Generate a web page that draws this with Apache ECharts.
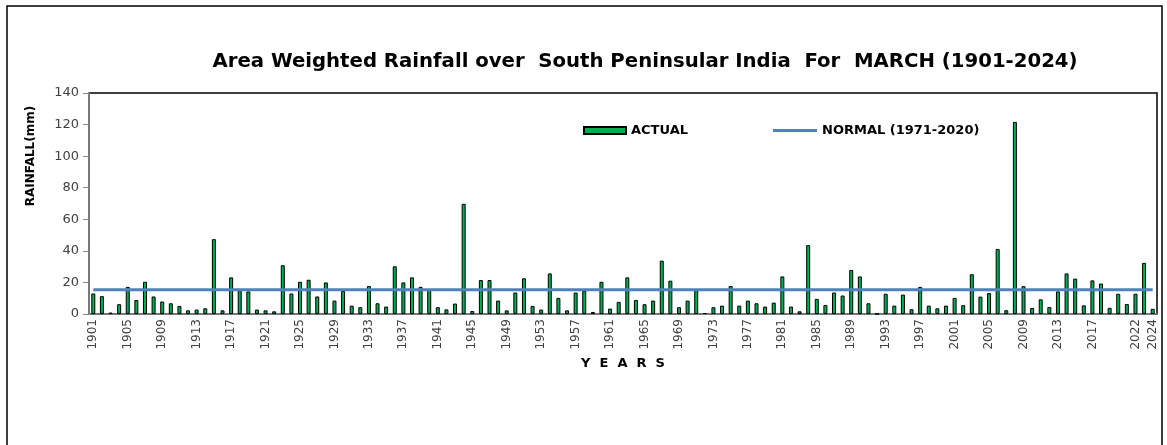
<!DOCTYPE html>
<html>
<head>
<meta charset="utf-8">
<script src="https://cdn.jsdelivr.net/npm/echarts@6/dist/echarts.min.js"></script>
<style>
  html, body { margin: 0; padding: 0; background: #fff; }
  #chart { width: 1167px; height: 445px; }
</style>
</head>
<body>
<div id="chart"></div>
<script>
// years 1901 - 2024
const years = []
for (let y = 1901; y <= 2024; y++) years.push(String(y))

// March rainfall (mm)
const actual = [
  13.0, 11.3, 0.9, 6.2, 17.2, 8.9, 20.4, 11.1, 7.9, 6.8,      // 1901-1910
  5.1, 2.3, 2.8, 3.6, 47.4, 2.3, 23.2, 15.1, 14.3, 2.8,       // 1911-1920
  2.3, 1.7, 30.9, 13.0, 20.4, 21.7, 11.1, 20.0, 8.5, 14.5,    // 1921-1930
  5.3, 4.3, 17.7, 6.8, 4.7, 30.2, 20.0, 23.2, 17.2, 15.5,     // 1931-1940
  4.3, 2.9, 6.6, 69.8, 1.9, 21.5, 21.5, 8.5, 2.3, 13.6,       // 1941-1950
  22.6, 5.1, 2.8, 25.7, 10.2, 2.3, 13.6, 14.7, 1.3, 20.4,     // 1951-1960
  3.4, 7.7, 23.2, 8.9, 6.2, 8.5, 33.8, 21.1, 4.3, 8.5,        // 1961-1970
  15.1, 0.6, 4.3, 5.3, 17.7, 5.3, 8.5, 6.8, 4.7, 7.2,         // 1971-1980
  23.8, 4.7, 1.7, 43.6, 9.6, 5.7, 13.6, 11.7, 27.9, 23.8,     // 1981-1990
  6.8, 0, 12.8, 5.3, 12.3, 3.0, 17.2, 5.3, 3.6, 5.3,          // 1991-2000
  10.2, 5.6, 25.2, 11.0, 13.2, 41.2, 2.4, 121.7, 17.6, 3.8,   // 2001-2010
  9.3, 4.4, 14.3, 25.7, 22.4, 5.5, 21.3, 19.3, 3.9, 12.8,     // 2011-2020
  6.3, 12.8, 32.4, 3.3                                        // 2021-2024
]

// normal (1971-2020)
const NORMAL = 15.3
const normal = years.map(() => NORMAL)

// years that get a label on the x axis
const labelYears = []
for (let y = 1901; y <= 2017; y += 4) labelYears.push(String(y))
labelYears.push('2022', '2024')

const chart = echarts.init(document.getElementById('chart'))

const legendText = { fontFamily: 'DejaVu Sans', fontSize: 13, fontWeight: 'bold', color: '#000' }

const option = {
  backgroundColor: '#fff',
  animation: false,
  title: {
    text: 'Area Weighted Rainfall over  South Peninsular India  For  MARCH (1901-2024)',
    left: 640,
    textAlign: 'center',
    top: 47,
    textStyle: {
      fontFamily: 'DejaVu Sans',
      fontSize: 19.7,
      fontWeight: 'bold',
      color: '#000'
    }
  },
  legend: [
    {
      data: ['ACTUAL'],
      left: 583,
      top: 124,
      padding: 0,
      icon: 'rect',
      itemWidth: 42,
      itemHeight: 7,
      textStyle: legendText
    },
    {
      data: ['NORMAL (1971-2020)'],
      left: 773,
      top: 124,
      padding: 0,
      icon: 'rect',
      itemWidth: 44,
      itemHeight: 3,
      textStyle: legendText
    }
  ],
  grid: {
    left: 89,
    right: 10,
    top: 93,
    bottom: 131,
    show: true,
    borderColor: '#000',
    borderWidth: 1.5
  },
  xAxis: {
    type: 'category',
    data: years,
    boundaryGap: true,
    name: 'Y  E  A  R  S',
    nameLocation: 'middle',
    nameGap: 43,
    nameTextStyle: { fontFamily: 'DejaVu Sans', fontSize: 13, fontWeight: 'bold', color: '#000' },
    axisLine: { lineStyle: { color: '#8c8c8c', width: 1.5 } },
    axisTick: { show: false },
    axisLabel: {
      rotate: 90,
      margin: 5,
      interval: (i, v) => labelYears.includes(v),
      fontFamily: 'DejaVu Sans',
      fontSize: 12,
      color: '#404040'
    },
    splitLine: { show: false }
  },
  yAxis: {
    type: 'value',
    min: 0,
    max: 140,
    interval: 20,
    axisLine: { show: true, lineStyle: { color: '#8c8c8c', width: 1.5 } },
    axisTick: { show: true, length: 6, lineStyle: { color: '#8c8c8c' } },
    axisLabel: { fontFamily: 'DejaVu Sans', fontSize: 13, color: '#404040', margin: 10 },
    splitLine: { show: false }
  },
  graphic: [
    {
      type: 'rect',
      shape: { x: 7, y: 6, width: 1155, height: 470 },
      style: { fill: 'none', stroke: '#000', lineWidth: 1.5 },
      silent: true
    },
    {
      type: 'text',
      x: 31,
      y: 156,
      rotation: Math.PI / 2,
      style: {
        text: 'RAINFALL(mm)',
        fontFamily: 'DejaVu Sans',
        fontSize: 12,
        fontWeight: 'bold',
        fill: '#000',
        align: 'center',
        verticalAlign: 'middle'
      }
    }
  ],
  series: [
    {
      name: 'ACTUAL',
      type: 'bar',
      data: actual,
      barWidth: 4,
      itemStyle: { color: '#00B050', borderColor: '#000', borderWidth: 1 }
    },
    {
      name: 'NORMAL (1971-2020)',
      type: 'line',
      data: normal,
      symbol: 'none',
      z: 5,
      itemStyle: { color: '#4F81BD' },
      lineStyle: { color: '#4F81BD', width: 3 }
    }
  ]
}

chart.setOption(option)
</script>
</body>
</html>
